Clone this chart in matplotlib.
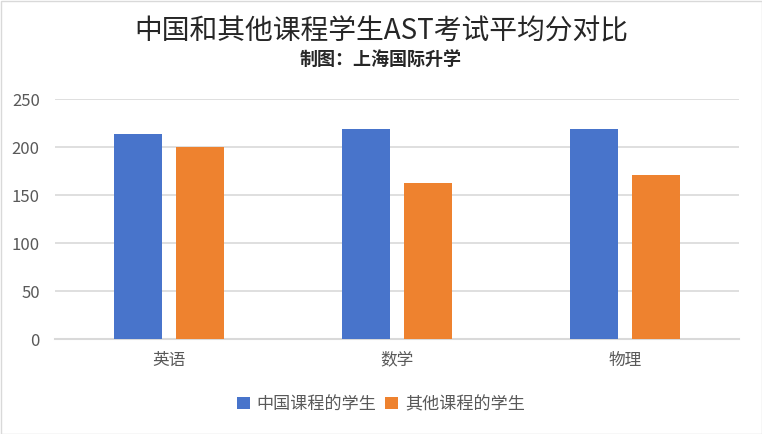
import matplotlib
matplotlib.use("Agg")
import matplotlib.pyplot as plt
import numpy as np
from matplotlib.patches import Rectangle

plt.rcParams['font.family'] = ['Noto Sans CJK SC', 'DejaVu Sans']

categories = ['英语', '数学', '物理']
series_names = ['中国课程的学生', '其他课程的学生']
china_vals = [214, 219, 219]
other_vals = [200, 163, 171]
yticks = [0, 50, 100, 150, 200, 250]
colors = ['#4874CB', '#EE822F']

fig = plt.figure(figsize=(7.62, 4.34), dpi=100)
ax = fig.add_axes([55/762, 95/434, 684/762, 240/434])

x = np.arange(len(categories))
w = 0.2105
off = 0.136
ax.bar(x - off, china_vals, w, color=colors[0], label=series_names[0], zorder=3)
ax.bar(x + off, other_vals, w, color=colors[1], label=series_names[1], zorder=3)

ax.set_xlim(-0.5, 2.5)
ax.set_ylim(0, 250)
ax.set_yticks(yticks)
ax.set_xticks(x)
ax.set_xticklabels(categories)
ax.yaxis.grid(True, color='#d9d9d9', linewidth=1.2, zorder=0)
for s in ['top', 'right', 'left']:
    ax.spines[s].set_visible(False)
ax.spines['bottom'].set_color('#d9d9d9')
ax.spines['bottom'].set_linewidth(1.5)
ax.tick_params(axis='both', length=0, labelsize=12, colors='#595959')
ax.tick_params(axis='x', pad=9)
ax.tick_params(axis='y', pad=11)

fig.text(0.5, 1 - 31/434, '中国和其他课程学生AST考试平均分对比', ha='center', va='center',
         fontsize=20, fontweight='medium', color='#262626')
fig.text(0.5, 1 - 60/434, '制图：上海国际升学', ha='center', va='center',
         fontsize=13, fontweight='bold', color='#262626')

leg = fig.legend(loc='center', bbox_to_anchor=(0.5, 1 - 404/434), ncol=2, frameon=False,
                 fontsize=12.3, handlelength=0.75, handleheight=0.75, handletextpad=0.4,
                 columnspacing=0.5)
for t in leg.get_texts():
    t.set_color('#595959')

fig.patches.append(Rectangle((0.5/762, 0.5/434), 1 - 1/762, 1 - 1/434, transform=fig.transFigure,
                             fill=False, edgecolor='#d9d9d9', linewidth=1))

fig.savefig('out.png', dpi=100)
